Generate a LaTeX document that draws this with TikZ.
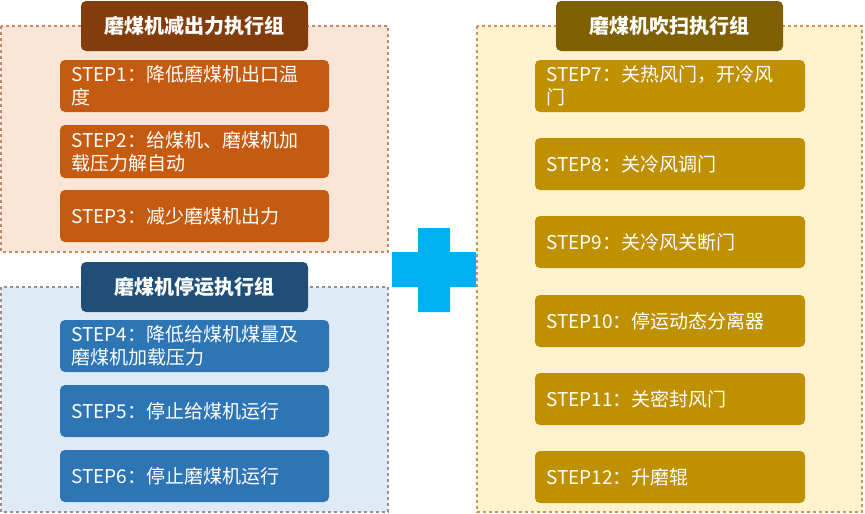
\documentclass[tikz,border=0pt]{standalone}
\usepackage{fontspec}
\setmainfont{Noto Sans CJK SC}
\definecolor{c1}{RGB}{132,60,12}\definecolor{c2}{RGB}{197,90,17}
\definecolor{c3}{RGB}{31,78,121}\definecolor{c4}{RGB}{46,117,182}
\definecolor{c5}{RGB}{127,96,0}\definecolor{c6}{RGB}{191,144,0}
\definecolor{f1}{RGB}{251,229,214}\definecolor{f2}{RGB}{222,235,247}\definecolor{f3}{RGB}{255,242,204}
\definecolor{b1}{RGB}{192,137,106}\definecolor{b2}{RGB}{160,140,140}\definecolor{b3}{RGB}{200,150,90}
\definecolor{plus}{RGB}{0,176,240}
\begin{document}
\begin{tikzpicture}[x=1pt,y=-1pt,
 frame/.style={draw=#1,dashed,line width=1.2pt},
 ttl/.style={fill=#1,rounded corners=5pt},
 stp/.style={fill=#1,rounded corners=5pt},
 tt/.style={text=white,font=\fontsize{20}{24}\selectfont\bfseries},
 st/.style={text=white,font=\fontsize{19}{23}\selectfont,align=left,anchor=west,inner sep=0pt}]
\useasboundingbox (0,0) rectangle (865,514);
\path[frame=b1,fill=f1] (1,26) rectangle (388,252);
\path[frame=b2,fill=f2] (1,287) rectangle (388,512);
\path[frame=b3,fill=f3] (477,26) rectangle (862,512);
\path[ttl=c1] (81,1) rectangle (308,51); \node[tt] (t1) at (194.5,26) {磨煤机减出力执行组};
\path[ttl=c3] (81,262) rectangle (308,312); \node[tt] (t2) at (194.5,287) {磨煤机停运执行组};
\path[ttl=c5] (556,1) rectangle (783,51); \node[tt] (t3) at (669.5,26) {磨煤机吹扫执行组};
\path[stp=c2] (60,60) rectangle (329,112); \node[st] (s1) at (71,86) {STEP1：降低磨煤机出口温\\度};
\path[stp=c2] (60,125) rectangle (329,178); \node[st] (s2) at (71,151.5) {STEP2：给煤机、磨煤机加\\载压力解自动};
\path[stp=c2] (60,190) rectangle (329,242); \node[st] (s3) at (71,216) {STEP3：减少磨煤机出力};
\path[stp=c4] (60,320) rectangle (329,372); \node[st] (s4) at (71,346) {STEP4：降低给煤机煤量及\\磨煤机加载压力};
\path[stp=c4] (60,385) rectangle (329,437); \node[st] (s5) at (71,411) {STEP5：停止给煤机运行};
\path[stp=c4] (60,450) rectangle (329,502); \node[st] (s6) at (71,476) {STEP6：停止磨煤机运行};
\path[stp=c6] (535,60) rectangle (805,112); \node[st] (s7) at (546,86) {STEP7：关热风门，开冷风\\门};
\path[stp=c6] (535,138) rectangle (805,190); \node[st] (s8) at (546,164) {STEP8：关冷风调门};
\path[stp=c6] (535,216) rectangle (805,268); \node[st] (s9) at (546,242) {STEP9：关冷风关断门};
\path[stp=c6] (535,295) rectangle (805,347); \node[st] (s10) at (546,321) {STEP10：停运动态分离器};
\path[stp=c6] (535,373) rectangle (805,425); \node[st] (s11) at (546,399) {STEP11：关密封风门};
\path[stp=c6] (535,451) rectangle (805,503); \node[st] (s12) at (546,477) {STEP12：升磨辊};
\fill[plus] (392,252) rectangle (476,287) (418,228) rectangle (450,312);
\end{tikzpicture}
\end{document}
